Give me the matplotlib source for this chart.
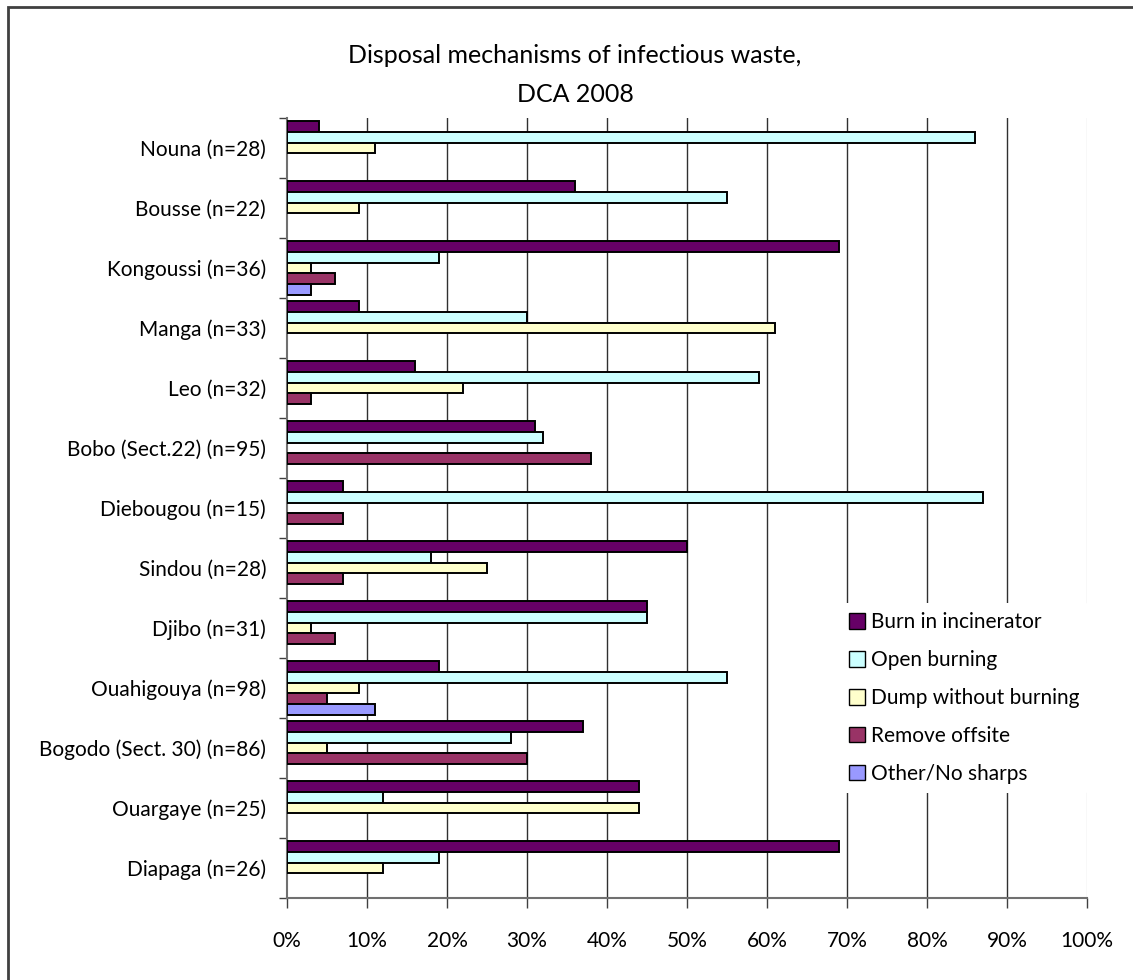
import numpy as np
import matplotlib
matplotlib.use('Agg')
import matplotlib.pyplot as plt
from matplotlib.patches import Rectangle

plt.rcParams['font.family'] = ['Lato', 'DejaVu Sans']

districts = ['Nouna (n=28)', 'Bousse (n=22)', 'Kongoussi (n=36)', 'Manga (n=33)',
             'Leo (n=32)', 'Bobo (Sect.22) (n=95)', 'Diebougou (n=15)', 'Sindou (n=28)',
             'Djibo (n=31)', 'Ouahigouya (n=98)', 'Bogodo (Sect. 30) (n=86)',
             'Ouargaye (n=25)', 'Diapaga (n=26)']

series_names = ['Burn in incinerator', 'Open burning', 'Dump without burning',
                'Remove offsite', 'Other/No sharps']
series_colors = ['#660066', '#CCFFFF', '#FFFFCC', '#993366', '#9999FF']

burn_incinerator = [4, 36, 69, 9, 16, 31, 7, 50, 45, 19, 37, 44, 69]
open_burning = [86, 55, 19, 30, 59, 32, 87, 18, 45, 55, 28, 12, 19]
dump_no_burn = [11, 9, 3, 61, 22, 0, 0, 25, 3, 9, 5, 44, 12]
remove_offsite = [0, 0, 6, 0, 3, 38, 7, 7, 6, 5, 30, 0, 0]
other_no_sharps = [0, 0, 3, 0, 0, 0, 0, 0, 0, 11, 0, 0, 0]

x_ticks = list(range(0, 101, 10))
x_tick_labels = [f'{t}%' for t in x_ticks]

all_series = [burn_incinerator, open_burning, dump_no_burn, remove_offsite, other_no_sharps]

W, H = 1133, 980
fig = plt.figure(figsize=(W / 100, H / 100), dpi=100)
ax = fig.add_axes([287 / W, 1 - 898 / H, 800 / W, 780 / H])

# outer chart frame
fig.patches.append(Rectangle((8 / W, -0.05), 1.2, 1 - 7 / H + 0.05, transform=fig.transFigure,
                             fill=False, edgecolor='#404040', linewidth=2))

pos = np.arange(len(districts))
bar_h = 0.18
for k, (vals, name, col) in enumerate(zip(all_series, series_names, series_colors)):
    yk = pos - 0.45 + bar_h * (k + 0.5)
    v = np.array(vals, dtype=float)
    mask = v > 0
    ax.barh(yk[mask], v[mask], height=bar_h, color=col, edgecolor='black',
            linewidth=1.4, zorder=3)
    ax.barh([np.nan], [0], color=col, edgecolor='black', linewidth=1.0, label=name)

ax.set_xlim(0, 100)
ax.set_ylim(len(districts) - 0.5, -0.5)

ax.set_xticks(x_ticks)
ax.set_xticklabels(x_tick_labels, fontsize=15)
ax.tick_params(axis='x', length=7, width=1, color='#404040', pad=17)

ax.set_yticks(np.arange(-0.5, len(districts), 1))
ax.set_yticklabels([])
ax.set_yticks(pos, minor=True)
ax.set_yticklabels(districts, minor=True, fontsize=15)
ax.tick_params(axis='y', which='major', length=6, width=1, color='#404040')
ax.tick_params(axis='y', which='minor', length=0, pad=15)

for t in x_ticks[1:]:
    ax.axvline(t, color='#dddddd' if t == 100 else '#303030', linewidth=1, zorder=1)

for side in ['top', 'right']:
    ax.spines[side].set_visible(False)
for side in ['left', 'bottom']:
    ax.spines[side].set_color('#707070')
    ax.spines[side].set_linewidth(1.5)

leg = ax.legend(loc='upper left', bbox_to_anchor=(553 / 800, (898 - 603) / 780),
                frameon=True, fontsize=15, handlelength=0.75, handleheight=0.75,
                handletextpad=0.3, labelspacing=0.86, borderaxespad=0, borderpad=0.45)
leg.get_frame().set_edgecolor('none')
leg.get_frame().set_facecolor('white')
leg.get_frame().set_alpha(1)
leg.set_zorder(5)

fig.text(575 / W, 1 - 63 / H, 'Disposal mechanisms of infectious waste,',
         ha='center', va='baseline', fontsize=18)
fig.text(575 / W, 1 - 102 / H, 'DCA 2008', ha='center', va='baseline', fontsize=18)

fig.savefig('out.png', dpi=100)
